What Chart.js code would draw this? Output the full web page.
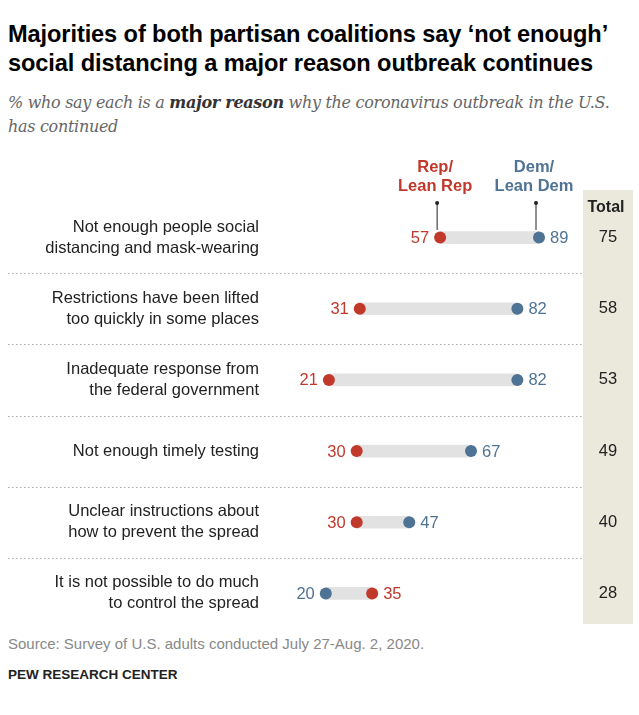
<!DOCTYPE html>
<html><head><meta charset="utf-8">
<script src="https://cdn.jsdelivr.net/npm/chart.js@4"></script>
<style>
body{margin:0;width:639px;height:715px;background:#fff;font-family:"Liberation Sans",Arial,sans-serif;position:relative;overflow:hidden}
#t{position:absolute;left:8px;top:20px;font-size:23.6px;font-weight:bold;color:#000;line-height:29px;letter-spacing:-0.1px}
#s{position:absolute;left:8px;top:91px;font-size:16px;font-style:italic;color:#666;line-height:24px;font-family:"DejaVu Serif",Georgia,serif;letter-spacing:-0.3px}
#s b{color:#333}
#src{position:absolute;left:8px;top:635px;font-size:15px;color:#888}
#pew{position:absolute;left:8px;top:667px;font-size:13.5px;font-weight:bold;color:#222}
#c{position:absolute;left:0;top:150px}
</style></head><body>
<div id="t">Majorities of both partisan coalitions say ‘not enough’<br>social distancing a major reason outbreak continues</div>
<div id="s">% who say each is a <b>major reason</b> why the coronavirus outbreak in the U.S.<br>has continued</div>
<div id="c"><canvas id="cv" width="639" height="485"></canvas></div>
<div id="src">Source: Survey of U.S. adults conducted July 27-Aug. 2, 2020.</div>
<div id="pew">PEW RESEARCH CENTER</div>
<script>
const categories=["Not enough people social|distancing and mask-wearing","Restrictions have been lifted|too quickly in some places","Inadequate response from|the federal government","Not enough timely testing","Unclear instructions about|how to prevent the spread","It is not possible to do much|to control the spread"];
const rep=[57,31,21,30,30,35];
const dem=[89,82,82,67,47,20];
const total=[75,58,53,49,40,28];
const RED="#c0392b",BLUE="#4f7394",GRAY="#e2e2e2";
const deco={id:'deco',
beforeDatasetsDraw(ch){const c=ch.ctx,a=ch.chartArea,y=ch.scales.y;
 c.save();c.fillStyle="#ebe8dc";c.fillRect(583,40,50,434);
 c.strokeStyle="#aaa";c.setLineDash([1.5,2.5]);c.lineWidth=1;
 for(let i=0;i<categories.length-1;i++){const yy=Math.round((y.getPixelForValue(i)+y.getPixelForValue(i+1))/2)+0.5;c.beginPath();c.moveTo(8,yy);c.lineTo(583,yy);c.stroke();}
 c.restore();},
afterDatasetsDraw(ch){const c=ch.ctx,x=ch.scales.x,y=ch.scales.y;c.save();
 c.font="16.5px 'Liberation Sans',Arial";c.textBaseline="middle";
 categories.forEach((l,i)=>{const yy=y.getPixelForValue(i);const ls=l.split("|");c.fillStyle="#222";c.textAlign="right";
  ls.forEach((s,k)=>c.fillText(s,259,yy+(k-(ls.length-1)/2)*21));
  c.textAlign="center";c.fillText(total[i],608,yy);
  const lo=Math.min(rep[i],dem[i]),hi=Math.max(rep[i],dem[i]);
  const loC=rep[i]<=dem[i]?RED:BLUE,hiC=rep[i]<=dem[i]?BLUE:RED;
  c.textAlign="right";c.fillStyle=loC;c.fillText(lo,x.getPixelForValue(lo)-11,yy+1);
  c.textAlign="left";c.fillStyle=hiC;c.fillText(hi,x.getPixelForValue(hi)+11,yy+1);});
 c.font="bold 16px 'Liberation Sans',Arial";c.textAlign="center";c.fillStyle="#222";c.fillText("Total",606,58);
 const rx=x.getPixelForValue(rep[0]),dx=x.getPixelForValue(dem[0]);
 c.font="bold 16.5px 'Liberation Sans',Arial";
 c.fillStyle=RED;c.fillText("Rep/",rx-5,17);c.fillText("Lean Rep",rx-5,36);
 c.fillStyle=BLUE;c.fillText("Dem/",dx-5,17);c.fillText("Lean Dem",dx-5,36);
 c.strokeStyle="#222";c.fillStyle="#222";c.lineWidth=1;
 [rx-3,dx-3].forEach(px=>{c.beginPath();c.moveTo(px,53);c.lineTo(px,80);c.stroke();c.beginPath();c.arc(px,53,2,0,7);c.fill();});
 c.restore();}};
new Chart(document.getElementById('cv'),{type:'bar',
data:{labels:categories,datasets:[
 {data:rep.map((r,i)=>[Math.min(r,dem[i]),Math.max(r,dem[i])]),backgroundColor:GRAY,barThickness:12,order:3},
 {type:'line',showLine:false,data:rep.map((v,i)=>({x:v,y:categories[i]})),pointRadius:6,pointHoverRadius:6,pointBackgroundColor:RED,pointBorderWidth:0,order:1},
 {type:'line',showLine:false,data:dem.map((v,i)=>({x:v,y:categories[i]})),pointRadius:6,pointHoverRadius:6,pointBackgroundColor:BLUE,pointBorderWidth:0,order:2}]},
options:{indexAxis:'y',responsive:false,animation:false,
 layout:{padding:{left:264,right:66,top:52,bottom:4}},
 plugins:{legend:{display:false},tooltip:{enabled:false}},
 scales:{x:{type:'linear',min:0,max:100,display:false},y:{type:'category',display:false,offset:true}}},
plugins:[deco]});
</script></body></html>
